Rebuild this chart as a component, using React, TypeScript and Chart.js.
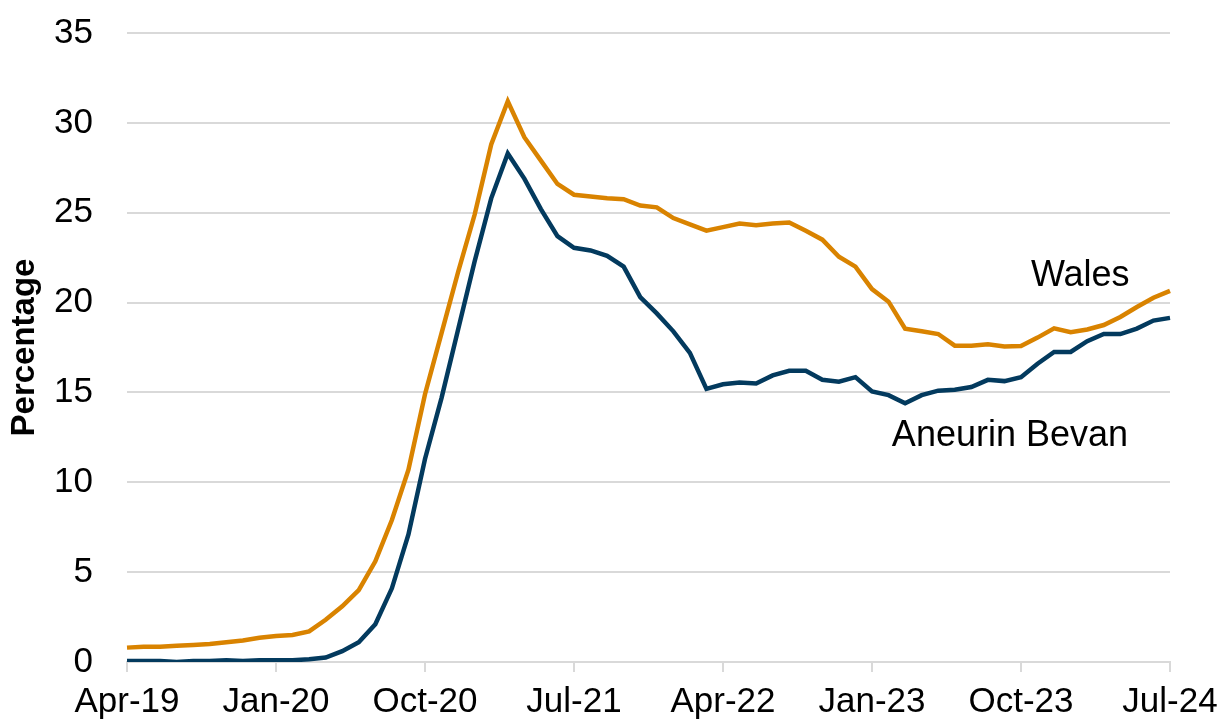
import React, { useEffect, useRef } from "react";
import { Chart, registerables } from "chart.js";

Chart.register(...registerables);

const MONTHS = ["Jan", "Feb", "Mar", "Apr", "May", "Jun", "Jul", "Aug", "Sep", "Oct", "Nov", "Dec"];
const START_MONTH = 3; // Apr
const START_YEAR = 19;
const N_POINTS = 64; // Apr-19 .. Jul-24

const labels: string[] = [];
for (let i = 0; i < N_POINTS; i++) {
  const m = (START_MONTH + i) % 12;
  const y = START_YEAR + Math.floor((START_MONTH + i) / 12);
  labels.push(`${MONTHS[m]}-${y}`);
}

const walesValues = [
  0.8, 0.85, 0.85, 0.9, 0.95, 1.0, 1.1, 1.2, 1.35, 1.45, 1.5, 1.7,
  2.35, 3.1, 4.0, 5.6, 7.9, 10.7, 14.9, 18.3, 21.7, 24.9, 28.8, 31.2,
  29.2, 27.9, 26.6, 26.0, 25.9, 25.8, 25.75, 25.4, 25.3, 24.7, 24.35, 24.0,
  24.2, 24.4, 24.3, 24.4, 24.45, 24.0, 23.5, 22.55, 22.0, 20.75, 20.05, 18.55,
  18.4, 18.25, 17.6, 17.6, 17.68, 17.55, 17.58, 18.05, 18.57, 18.35, 18.5, 18.75,
  19.2, 19.75, 20.27, 20.65,
];

const aneurinBevanValues = [
  0.05, 0.05, 0.05, 0.0, 0.05, 0.05, 0.1, 0.05, 0.1, 0.1, 0.1, 0.15,
  0.25, 0.6, 1.1, 2.1, 4.1, 7.1, 11.3, 14.7, 18.5, 22.3, 25.8, 28.3,
  26.9, 25.2, 23.7, 23.05, 22.9, 22.6, 22.0, 20.3, 19.4, 18.4, 17.2, 15.2,
  15.45, 15.55, 15.5, 15.95, 16.2, 16.2, 15.7, 15.6, 15.85, 15.05, 14.85, 14.4,
  14.85, 15.1, 15.15, 15.3, 15.7, 15.63, 15.85, 16.6, 17.25, 17.25, 17.85, 18.25,
  18.25, 18.55, 19.0, 19.15,
];

const TICK_EVERY = 9;
const Y_MIN = 0;
const Y_MAX = 35;
const Y_STEP = 5;

// series labels placed in data coordinates (category index, value at baseline)
const seriesLabels = [
  { text: "Wales", index: 54.6, value: 20.9 },
  { text: "Aneurin Bevan", index: 46.2, value: 12.0 },
];

const ORANGE = "#D98300";
const NAVY = "#033A5E";
const GRID = "#D9D9D9";
const FONT = "'Liberation Sans', Arial, sans-serif";

const labelPlugin = {
  id: "seriesLabels",
  afterDatasetsDraw(chart: any) {
    const { ctx, scales } = chart;
    ctx.save();
    ctx.font = `36px ${FONT}`;
    ctx.fillStyle = "#000";
    ctx.textAlign = "left";
    ctx.textBaseline = "alphabetic";
    for (const l of seriesLabels) {
      const x = scales.x.getPixelForValue(l.index);
      const y = scales.y.getPixelForValue(l.value);
      ctx.fillText(l.text, x, y);
    }
    ctx.restore();
  },
};

export default function App() {
  const ref = useRef<HTMLCanvasElement | null>(null);

  useEffect(() => {
    if (!ref.current) return;
    const chart = new Chart(ref.current, {
      type: "line",
      data: {
        labels,
        datasets: [
          {
            label: "Wales",
            data: walesValues,
            borderColor: ORANGE,
            backgroundColor: ORANGE,
            borderWidth: 4.5,
            pointRadius: 0,
            tension: 0,
          },
          {
            label: "Aneurin Bevan",
            data: aneurinBevanValues,
            borderColor: NAVY,
            backgroundColor: NAVY,
            borderWidth: 4.5,
            pointRadius: 0,
            tension: 0,
          },
        ],
      },
      options: {
        animation: false,
        responsive: true,
        maintainAspectRatio: false,
        layout: { padding: { top: 33, left: 0, right: 51, bottom: 0 } },
        plugins: {
          legend: { display: false },
          tooltip: { enabled: false },
        },
        scales: {
          x: {
            type: "category",
            offset: false,
            grid: {
              drawOnChartArea: false,
              drawTicks: true,
              tickLength: 10,
              color: GRID,
              lineWidth: 2,
            },
            border: { color: GRID, width: 2 },
            ticks: {
              autoSkip: false,
              maxRotation: 0,
              minRotation: 0,
              padding: 9,
              color: "#000",
              font: { family: FONT, size: 35 },
              callback: (_v: any, i: number) => (i % TICK_EVERY === 0 ? labels[i] : null),
            },
            afterFit: (s: any) => {
              s.height = 58;
              s.paddingLeft = 0;
              s.paddingRight = 0;
            },
          },
          y: {
            min: Y_MIN,
            max: Y_MAX,
            grid: { color: GRID, lineWidth: 2, drawTicks: false },
            border: { display: false },
            ticks: {
              stepSize: Y_STEP,
              padding: 34,
              color: "#000",
              font: { family: FONT, size: 35 },
            },
            title: {
              display: true,
              text: "Percentage",
              color: "#000",
              font: { family: FONT, size: 33, weight: "bold", lineHeight: 1.2 },
              padding: { top: 5, bottom: 0 },
            },
            afterFit: (s: any) => {
              s.width = 127;
              s.paddingTop = 0;
              s.paddingBottom = 0;
            },
          },
        },
      },
      plugins: [labelPlugin],
    });
    return () => chart.destroy();
  }, []);

  return (
    <div style={{ position: "fixed", left: 0, top: 0, width: 1221, height: 720, background: "#fff" }}>
      <canvas ref={ref} />
    </div>
  );
}
